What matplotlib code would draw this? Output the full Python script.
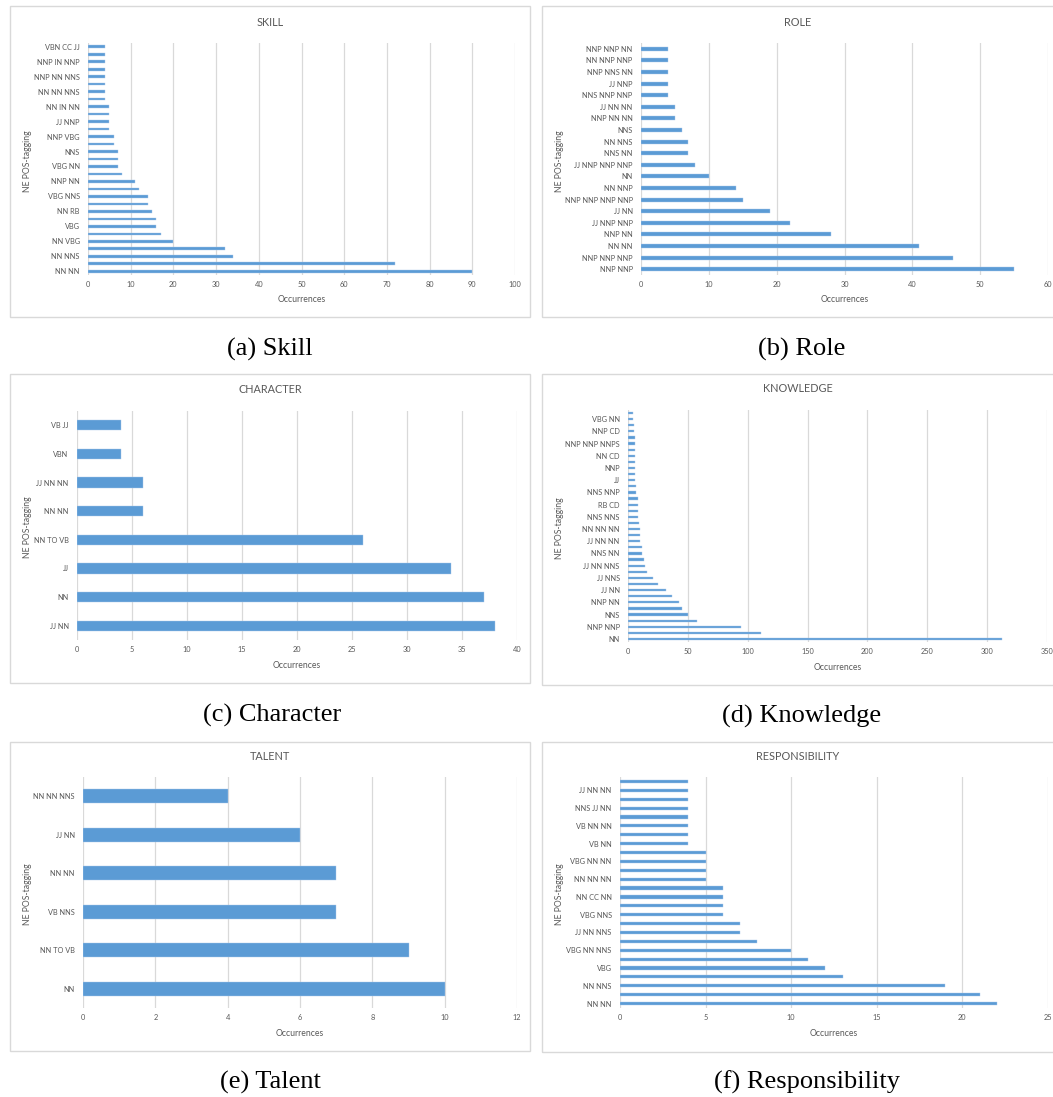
import matplotlib.pyplot as plt
from matplotlib.patches import Rectangle
import numpy as np

plt.rcParams['font.family'] = ['Lato', 'DejaVu Sans']

# data, bottom bar first ('' = category label not shown on the axis)
skill_labels = ['NN NN', '', 'NN NNS', '', 'NN VBG', '', 'VBG', '', 'NN RB', '',
                'VBG NNS', '', 'NNP NN', '', 'VBG NN', '', 'NNS', '', 'NNP VBG', '',
                'JJ NNP', '', 'NN IN NN', '', 'NN NN NNS', '', 'NNP NN NNS', '',
                'NNP IN NNP', '', 'VBN CC JJ']
skill_values = [90, 72, 34, 32, 20, 17, 16, 16, 15, 14, 14, 12, 11, 8, 7, 7, 7, 6, 6, 5,
                5, 5, 5, 4, 4, 4, 4, 4, 4, 4, 4]

role_labels = ['NNP NNP', 'NNP NNP NNP', 'NN NN', 'NNP NN', 'JJ NNP NNP', 'JJ NN',
               'NNP NNP NNP NNP', 'NN NNP', 'NN', 'JJ NNP NNP NNP', 'NNS NN', 'NN NNS',
               'NNS', 'NNP NN NN', 'JJ NN NN', 'NNS NNP NNP', 'JJ NNP', 'NNP NNS NN',
               'NN NNP NNP', 'NNP NNP NN']
role_values = [55, 46, 41, 28, 22, 19, 15, 14, 10, 8, 7, 7, 6, 5, 5, 4, 4, 4, 4, 4]

character_labels = ['JJ NN', 'NN', 'JJ', 'NN TO VB', 'NN NN', 'JJ NN NN', 'VBN', 'VB JJ']
character_values = [38, 37, 34, 26, 6, 6, 4, 4]

knowledge_labels = ['NN', '', 'NNP NNP', '', 'NNS', '', 'NNP NN', '', 'JJ NN', '',
                    'JJ NNS', '', 'JJ NN NNS', '', 'NNS NN', '', 'JJ NN NN', '',
                    'NN NN NN', '', 'NNS NNS', '', 'RB CD', '', 'NNS NNP', '', 'JJ', '',
                    'NNP', '', 'NN CD', '', 'NNP NNP NNPS', '', 'NNP CD', '', 'VBG NN', '']
knowledge_values = [312, 111, 94, 58, 50, 45, 43, 37, 32, 25, 21, 16, 14, 13, 12, 12,
                    10, 10, 10, 9, 8, 8, 8, 8, 7, 7, 6, 6, 6, 6, 6, 6, 6, 6, 5, 5, 4, 4]

talent_labels = ['NN', 'NN TO VB', 'VB NNS', 'NN NN', 'JJ NN', 'NN NN NNS']
talent_values = [10, 9, 7, 7, 6, 4]

resp_labels = ['NN NN', '', 'NN NNS', '', 'VBG', '', 'VBG NN NNS', '', 'JJ NN NNS', '',
               'VBG NNS', '', 'NN CC NN', '', 'NN NN NN', '', 'VBG NN NN', '', 'VB NN', '',
               'VB NN NN', '', 'NNS JJ NN', '', 'JJ NN NN', '']
resp_values = [22, 21, 19, 13, 12, 11, 10, 8, 7, 7, 6, 6, 6, 6, 5, 5, 5, 5, 4, 4,
               4, 4, 4, 4, 4, 4]

W, H = 1053, 1097
BLUE = '#5B9BD5'
GREY = '#595959'
GRID = '#D9D9D9'

fig = plt.figure(figsize=(W / 100, H / 100), dpi=100)


def fx(x):
    return x / W


def fy(y):
    return 1 - y / H


# title, labels, values, xmax, step, plot box (px), panel box (px), caption, caption pos
panels = [
    ('SKILL', skill_labels, skill_values, 100, 10, (88, 43, 515, 275),
     (10, 6, 530, 317), '(a) Skill', (270, 349)),
    ('ROLE', role_labels, role_values, 60, 10, (641, 43, 1048, 275),
     (542, 6, 1060, 317), '(b) Role', (802, 349)),
    ('CHARACTER', character_labels, character_values, 40, 5, (77, 411, 517, 640),
     (10, 374, 530, 683), '(c) Character', (272, 715)),
    ('KNOWLEDGE', knowledge_labels, knowledge_values, 350, 50, (628, 410, 1047, 642),
     (542, 374, 1060, 685), '(d) Knowledge', (802, 716)),
    ('TALENT', talent_labels, talent_values, 12, 2, (83, 777, 517, 1008),
     (10, 742, 530, 1051), '(e) Talent', (270, 1082)),
    ('RESPONSIBILITY', resp_labels, resp_values, 25, 5, (620, 777, 1048, 1008),
     (542, 742, 1060, 1052), '(f) Responsibility', (807, 1082)),
]

for title, labels, values, xmax, step, box, frame, caption, cpos in panels:
    x0, y0, x1, y1 = box
    # light grey panel frame
    fx0, fy0, fx1, fy1 = frame
    fig.patches.append(Rectangle((fx(fx0), fy(fy1)), fx(fx1 - fx0), (fy1 - fy0) / H,
                                 transform=fig.transFigure, fill=False,
                                 edgecolor=GRID, linewidth=1.0))

    ax = fig.add_axes([fx(x0), fy(y1), fx(x1 - x0), (y1 - y0) / H])
    y = np.arange(len(values))
    ax.barh(y, values, height=0.355, color=BLUE, edgecolor='#A9C8EA', linewidth=0.3,
            zorder=3)
    ax.set_xlim(0, xmax)
    ax.set_ylim(-0.5, len(values) - 0.5)
    ax.set_xticks(np.arange(0, xmax + step / 2, step))
    ax.set_yticks(y)
    ax.set_yticklabels(labels)
    ax.grid(axis='x', color=GRID, linewidth=0.9, zorder=0)
    for s in ax.spines.values():
        s.set_visible(False)
    ax.tick_params(length=0, labelsize=5.3, labelcolor=GREY)
    ax.tick_params(axis='y', pad=6)
    ax.tick_params(axis='x', pad=4)

    cx = (x0 + x1) / 2
    fig.text(fx((fx0 + fx1 if fx1 < W else fx0 + W) / 2), fy(y0 - 21), title,
             ha='center', va='center', fontsize=7.8, color=GREY)
    fig.text(fx(cx), fy(y1 + 25), 'Occurrences', ha='center', va='center',
             fontsize=6.2, color=GREY)
    fig.text(fx(fx0 + 18), fy((y0 + y1) / 2 + 2), 'NE POS-tagging', ha='center',
             va='center', rotation=90, fontsize=6.2, color=GREY)

    fig.text(fx(cpos[0]), fy(cpos[1]), caption, ha='center', va='center',
             fontsize=19, family=['Liberation Serif', 'DejaVu Serif'], color='black')

fig.savefig('out.png', dpi=100)
